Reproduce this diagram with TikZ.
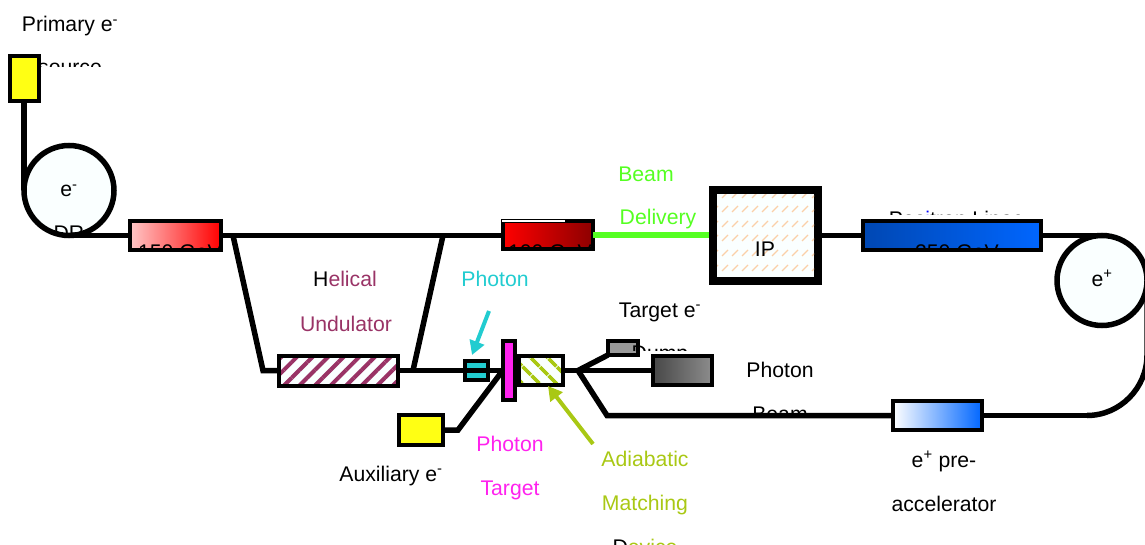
\documentclass[tikz,border=0pt]{standalone}
\usepackage{fontspec}
\setmainfont{Liberation Sans}
\usetikzlibrary{arrows.meta,patterns.meta}
\definecolor{srcyellow}{HTML}{FFFF14}
\definecolor{palefill}{HTML}{FAFFFF}
\definecolor{photonteal}{HTML}{22CCD0}
\definecolor{targetpink}{HTML}{FF22EE}
\definecolor{amdgreen}{HTML}{A9C814}
\definecolor{undpurple}{HTML}{993366}
\definecolor{bdsgreen}{HTML}{55FF22}
\definecolor{ipdash}{HTML}{FAD0A8}
\definecolor{linacblue}{HTML}{0066FF}
\tikzset{
    beamline/.style={line width=5.5pt},
    box/.style={draw, line width=4pt, inner sep=0pt, outer sep=0pt},
    ring/.style={draw, circle, line width=5.5pt, fill=palefill, minimum size=90pt, inner sep=0pt, outer sep=0pt},
    lbl/.style={anchor=base, inner sep=0pt, font=\fontsize{21.2}{24}\selectfont},
    pointer/.style={-{Triangle[length=14pt,width=15pt]}, line width=4pt}
}
\begin{document}
\begin{tikzpicture}[x=1pt,y=-1pt]
                \useasboundingbox (0,0) rectangle (1145,545);

                \node[box, fill=srcyellow, minimum width=29pt, minimum height=45pt] (pri) at (24,78.5) {};
                \node[ring] (dre) at (69,190.5) {};
                \node[ring] (drp) at (1102,280.5) {};
                \node[box, left color=red!22, right color=red, minimum width=91pt, minimum height=29pt] (lin150) at (175.5,235.5) {};
                \node[box, left color=red, right color=red!55!black, minimum width=90pt, minimum height=28pt] (lin100) at (548,235.5) {};
                \node[box, left color=linacblue!70!black, right color=linacblue, minimum width=178pt, minimum height=29pt] (linpos) at (952,235.5) {};
                \node[box, left color=white, right color=linacblue, minimum width=89pt, minimum height=29pt] (preacc) at (937.5,415.5) {};
                \node[box, preaction={fill=palefill}, pattern={Lines[angle=45,distance=11pt,line width=4pt]}, pattern color=undpurple, minimum width=119pt, minimum height=30pt] (und) at (338.5,370.5) {};
                \node[box, fill=photonteal, minimum width=23pt, minimum height=19pt] (coll) at (476.5,370.5) {};
                \node[box, fill=targetpink, minimum width=12.5pt, minimum height=59pt] (tgt) at (509,370.5) {};
                \node[box, preaction={fill=palefill}, pattern={Lines[angle=-45,distance=13pt,line width=4pt,xshift=5pt]}, pattern color=amdgreen, minimum width=44.5pt, minimum height=29pt] (amd) at (541,370.5) {};
                \node[box, fill=srcyellow, minimum width=44.5pt, minimum height=30pt] (aux) at (421,430) {};
                \node[box, fill=black!40, minimum width=30pt, minimum height=14pt] (edump) at (623,348) {};
                \node[box, left color=black!72, right color=black!45, minimum width=59pt, minimum height=29pt] (gdump) at (682.5,370.5) {};
                \node[draw, line width=8pt, fill=palefill, minimum width=105pt, minimum height=90pt, inner sep=0pt, outer sep=0pt] (ip) at (765,235.5) {};

                \begin{scope}
                    \clip (717,195) rectangle (814,277);
                    \foreach \rowy in {195,209,224,238,253,268}
                        \foreach \colx in {712,722,...,822}
                            \draw[ipdash, line width=1.3pt] (\colx,\rowy+3) -- (\colx+6,\rowy-3);
                \end{scope}

                \coordinate (junl) at (233,235.5);
                \coordinate (junr) at (443,235.5);
                \coordinate (bendl) at (263,370.5);
                \coordinate (bendr) at (413,370.5);
                \coordinate (auxbend) at (458,430);
                \coordinate (split) at (578,370.5);
                \coordinate (lowbend) at (607,415.5);
                \coordinate (arcstart) at (1087,415.5);
                \coordinate (arcend) at (1147,355);
                \coordinate (tealfrom) at (489,311);
                \coordinate (tealto) at (472,355);
                \coordinate (greenfrom) at (593,444);
                \coordinate (greento) at (548,386);

                \draw[beamline] (pri.south) -- (dre.west);
                \draw[beamline] (dre.south) -- (lin150.west);
                \draw[beamline] (lin150.east) -- (lin100.west);
                \draw[beamline] (junl) -- (bendl) -- (und.west);
                \draw[beamline] (und.east) -- (coll.west);
                \draw[beamline] (coll.west) -- (coll.east);
                \draw[beamline] (coll.east) -- (tgt.west);
                \draw[beamline] (bendr) -- (junr);
                \draw[beamline] (aux.east) -- (auxbend) -- (tgt.west);
                \draw[beamline] (amd.east) -- (split);
                \draw[beamline] (split) -- (edump.south west);
                \draw[beamline] (split) -- (gdump.west);
                \draw[beamline] (split) -- (lowbend) -- (preacc.west);
                \draw[bdsgreen, line width=6pt, shorten >=4pt] (lin100.east) -- (ip.west);
                \draw[beamline] (ip.east) -- (linpos.west);
                \draw[beamline] (linpos.east) -- (drp.north);
                \draw[beamline] (preacc.east) -- (arcstart);
                \draw[beamline] (arcstart) .. controls (1120,415.5) and (1147,388) .. (arcend) -- (drp.east);
                \draw[white, line width=1.5pt] (lin100.north west) ++(-1,-0.5) -- ++(63,0);

                \draw[pointer, photonteal] (tealfrom) -- (tealto);
                \draw[pointer, amdgreen] (greenfrom) -- (greento);

                \node[lbl] (prilbl) at (70,32) {Primary e\textsuperscript{-}};
                \begin{scope}
                    \clip (41,55) rectangle (110,66.5);
                    \node[lbl] (srclbl) at (70,75) {source};
                \end{scope}
                \node[lbl] (drelbl) at (69,197) {e\textsuperscript{-}};
                \begin{scope}
                    \clip (50,220) rectangle (90,233);
                    \node[lbl] (drlbl) at (69,241) {DR};
                \end{scope}
                \begin{scope}
                    \clip (132,238) rectangle (220,247.5);
                    \node[lbl] (lbl150) at (180,259) {150 GeV};
                \end{scope}
                \begin{scope}
                    \clip (505,238) rectangle (592,247.5);
                    \node[lbl] (lbl100) at (550,259) {100 GeV};
                \end{scope}
                \begin{scope}
                    \clip (865,238) rectangle (1040,247.5);
                    \node[lbl] (lbl250) at (957,259) {250 GeV};
                \end{scope}
                \begin{scope}
                    \clip (870,205) rectangle (1020,214.5);
                    \node[lbl] (poslbl) at (956,226.5) {Pos\textcolor{blue}{i}tron Linac};
                \end{scope}
                \node[lbl, bdsgreen] (bdsa) at (646,182) {Beam};
                \node[lbl, bdsgreen] (bdsb) at (658,225) {Delivery};
                \node[lbl] (iplbl) at (765,257) {IP};
                \node[lbl] (drplbl) at (1102,286) {e\textsuperscript{+}};
                \node[lbl, undpurple] (unda) at (345,287) {\textcolor{black}{H}elical};
                \node[lbl, undpurple] (undb) at (346,331) {Undulator};
                \node[lbl, photonteal] (colllbl) at (495,287) {Photon};
                \node[lbl] (edumpa) at (660,317) {Target e\textsuperscript{-}};
                \begin{scope}
                    \clip (630,344) rectangle (700,350.5);
                    \node[lbl] (edumpb) at (660,360) {Dump};
                \end{scope}
                \node[lbl] (gduma) at (780,377) {Photon};
                \begin{scope}
                    \clip (745,400) rectangle (815,412);
                    \node[lbl] (gdumb) at (780,421) {Beam};
                \end{scope}
                \node[lbl] (auxlbl) at (391,481) {Auxiliary e\textsuperscript{-}};
                \node[lbl, targetpink] (tgta) at (510,451) {Photon};
                \node[lbl, targetpink] (tgtb) at (510,495) {Target};
                \node[lbl, amdgreen] (amda) at (645,466) {Adiabatic};
                \node[lbl, amdgreen] (amdb) at (645,510) {Matching};
                \node[lbl, amdgreen] (amdc) at (645,554) {\textcolor{black}{D}evice};
                \node[lbl] (prea) at (944,467) {e\textsuperscript{+} pre-};
                \node[lbl] (preb) at (944,511) {accelerator};
\end{tikzpicture}
\end{document}
